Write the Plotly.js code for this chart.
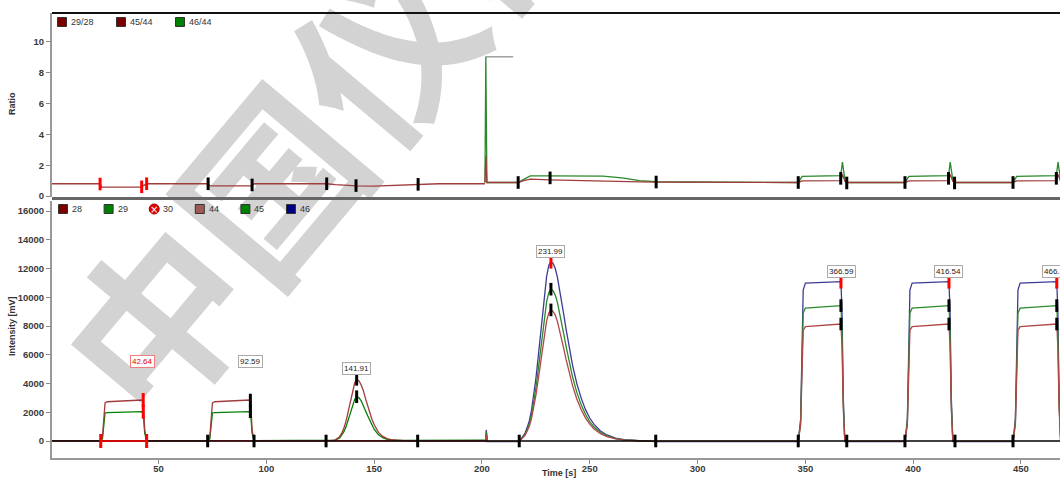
<!DOCTYPE html>
<html><head><meta charset="utf-8">
<script src="https://cdn.plot.ly/plotly-3.0.1.min.js"></script>
<style>html,body{margin:0;padding:0;background:#fff}#c{width:1060px;height:479px}</style>
</head><body><div id="c"></div>
<script>
// ---------- DATA ----------
const xTicks = [50,100,150,200,250,300,350,400,450];
const yTicksI = [0,2000,4000,6000,8000,10000,12000,14000,16000];
const yTicksR = [0,2,4,6,8,10];

// N2 segment (intensity, mV)
const tN2 = [0.6,23.2,24.0,24.6,25.2,26.2,42.4,43.0,43.6,44.5,72.8,73.8,74.4,75.0,76.0,92.2,92.8,93.4,94.3,127.7,130,132,134,135,136,137,138,139,140,141,141.9,143,144,145,146,147,148,149,150,152,154,156,158,160,164,170.2,185,201.4];
const v28 = [20,20,300,1800,2650,2730,2850,2500,800,20,20,300,1800,2650,2730,2850,2500,800,20,20,20,80,300,550,900,1400,2100,2800,3500,4050,4290,4180,3900,3500,2950,2450,1950,1500,1150,600,320,170,100,60,30,20,20,20];
const v29 = [20,20,150,1300,1950,1980,2040,1750,550,20,20,150,1300,1950,1980,2040,1750,550,20,20,15,60,215,400,650,1000,1500,2000,2500,2900,3080,3000,2800,2500,2100,1750,1400,1080,820,430,230,120,70,45,45,55,60,60];
const v30 = [10,10,20,35,40,40,40,30,15,10,10,20,35,40,40,40,30,15,10,10,10,12,15,18,22,27,32,38,44,48,50,49,46,42,37,32,27,23,20,15,12,11,10,10,10,10,10,10];

// CO2 segment (intensity, mV)
const tCO2 = [201.4,201.7,202.0,202.6,217.3,219,220,221,222,223,224,225,226,227,228,229,230,231,232,233,234,235,236,237,238,239,240,242,244,246,248,250,252,255,258,262,266,270,275,281,346.7,347.8,348.4,349.0,350.0,366.5,367.0,367.6,368.3,396.2,397.3,397.9,398.5,399.5,416.6,417.1,417.7,418.4,446.3,447.4,448.0,448.6,449.6,466.6,467.1,467.7,468.4];
const v44 = [-20,-20,450,-20,-30,220,400,690,1040,1570,2270,3150,4170,5290,6440,7500,8360,8910,9120,9020,8760,8320,7740,7080,6390,5690,5040,3870,2920,2190,1610,1170,840,510,310,145,65,20,0,-20,-20,1100,4300,7700,7960,8140,6600,2200,-20,-20,1100,4300,7700,7960,8140,6600,2200,-20,-20,1100,4300,7700,7960,8140,6600,2200,-20];
const v45 = [-20,-20,600,-20,-30,250,465,800,1200,1820,2630,3650,4830,6130,7460,8690,9690,10330,10560,10450,10150,9640,8970,8210,7400,6600,5840,4480,3380,2540,1860,1350,970,590,355,170,75,25,0,-20,-20,1300,5000,8900,9240,9420,7700,2500,-20,-20,1300,5000,8900,9240,9420,7700,2500,-20,-20,1300,5000,8900,9240,9420,7700,2500,-20];
const v46 = [-40,-40,770,-40,-50,300,550,950,1420,2150,3110,4310,5710,7250,8820,10270,11450,12210,12480,12350,12000,11400,10600,9700,8750,7800,6900,5300,4000,3000,2200,1600,1150,700,420,200,90,30,0,-40,-40,1500,6000,10500,10980,11090,9000,3000,-40,-40,1500,6000,10500,10980,11090,9000,3000,-40,-40,1500,6000,10500,10980,11090,9000,3000,-40];

// Ratios
const tR2928 = [0.6,22.9,23.6,42.0,43.0,44.5,73.0,73.8,92.8,93.6,94.5,128,132,138,142,150,160,170.4,180,201.4];
const r2928  = [0.80,0.80,0.58,0.58,0.68,0.80,0.80,0.66,0.66,0.72,0.80,0.80,0.74,0.70,0.66,0.64,0.68,0.76,0.80,0.80];
const tRCO2 = [201.4,201.8,202.3,216.8,219,222.4,231.6,245,256,265,273,280.8,346.7,348.5,366.4,367.2,368.4,369.2,396.2,398,416.4,417.2,418.4,419.2,446.3,448,466.4,467.2,468.4];
const r4544 = [0.88,2.58,0.88,0.88,0.98,1.10,1.05,1.00,0.94,0.93,0.92,0.90,0.88,0.98,1.00,1.40,0.95,0.88,0.88,0.98,1.00,1.40,0.95,0.88,0.88,0.98,1.00,1.40,0.95];
const r4644 = [0.88,9.03,0.88,0.88,1.05,1.31,1.31,1.30,1.29,1.18,1.00,0.93,0.88,1.28,1.33,2.20,1.00,0.88,0.88,1.28,1.33,2.20,1.00,0.88,0.88,1.28,1.33,2.20,1.00];
const tJump = [201.8,214.5];
const rJump = [9.03,9.03];

// Peak integration marks
const mkBlackT = [72.8,94.3,92.6,92.6,127.7,170.2,141.9,141.9,217.3,280.6,232,232,346.7,369.2,366.5,366.5,396.2,419.4,416.6,416.6,446.3,466.6,466.6];
const mkBlackV = [0,0,2850,2040,0,0,4290,3080,0,0,10560,9120,0,0,9420,8140,0,0,9420,8140,0,9420,8140];
const mkRedT = [23.2,44.5,42.9,42.9,232,366.5,416.6,466.6];
const mkRedV = [0,0,2850,2040,12480,11090,11090,11090];
const baseSelT = [23.2,44.5];
const baseSelV = [0,0];
const mkRTopBlackT = [73.0,93.4,128.0,141.6,170.4,216.8,231.6,280.8,346.7,366.4,369.2,396.2,416.4,419.2,446.3,466.4];
const mkRTopBlackV = [0.80,0.72,0.80,0.68,0.76,0.88,1.18,0.91,0.88,1.15,0.85,0.88,1.15,0.85,0.88,1.15];
const mkRTopRedT = [22.9,42.2,44.5];
const mkRTopRedV = [0.78,0.60,0.80];

// Peak labels
const peakLabels = ['42.64','92.59','141.91','231.99','366.59','416.54','466.54'];
const peakLabelT = [42.64,92.59,141.91,231.99,366.59,416.54,466.54];
const peakLabelV = [5500,5500,5010,13150,11760,11760,11760];

// Legends
const legTopNames = ['29/28','45/44','46/44'];
const legTopColors = ['#7a0000','#7a0000','#008000'];
const legBotNames = ['28','29','30','44','45','46'];
const legBotColors = ['#7a0000','#008000','#e00000','#a05a55','#008000','#000080'];

// ---------- PLOT ----------
const W=1060,H=479,L=52,R=1060,T=13,B=458;
const px=(x)=>(x-L)/(R-L), py=(y)=>(B-y)/(B-T);

const lw=1.3;
const traces = [
  {x:tN2,y:v30,xaxis:'x',yaxis:'y',mode:'lines',line:{color:'#ff0000',width:lw},name:'30'},
  {x:tN2,y:v29,xaxis:'x',yaxis:'y',mode:'lines',line:{color:'#008000',width:lw},name:'29'},
  {x:tN2,y:v28,xaxis:'x',yaxis:'y',mode:'lines',line:{color:'#a03c3c',width:lw},name:'28'},
  {x:tCO2,y:v46,xaxis:'x',yaxis:'y',mode:'lines',line:{color:'#3c3c96',width:lw},name:'46'},
  {x:tCO2,y:v45,xaxis:'x',yaxis:'y',mode:'lines',line:{color:'#2a8a2a',width:lw},name:'45'},
  {x:tCO2,y:v44,xaxis:'x',yaxis:'y',mode:'lines',line:{color:'#b04646',width:lw},name:'44'},
  {x:[0.6,468.1],y:[0,0],xaxis:'x',yaxis:'y',mode:'lines',line:{color:'#000',width:1.3},hoverinfo:'skip'},
  {x:baseSelT,y:baseSelV,xaxis:'x',yaxis:'y',mode:'lines',line:{color:'#ff0000',width:1.5}},
  {x:mkBlackT,y:mkBlackV,xaxis:'x',yaxis:'y',mode:'markers',marker:{symbol:'line-ns',size:9,line:{color:'#000',width:3}}},
  {x:mkRedT,y:mkRedV,xaxis:'x',yaxis:'y',mode:'markers',marker:{symbol:'line-ns',size:10,line:{color:'#ff0000',width:3}}},
  // ratio panel
  {x:tR2928,y:r2928,xaxis:'x2',yaxis:'y2',mode:'lines',line:{color:'#a03c3c',width:lw},name:'29/28'},
  {x:tJump,y:rJump,xaxis:'x2',yaxis:'y2',mode:'lines',line:{color:'#a0a0a0',width:1.5}},
  {x:tRCO2,y:r4644,xaxis:'x2',yaxis:'y2',mode:'lines',line:{color:'#2a8a2a',width:lw},name:'46/44'},
  {x:tRCO2,y:r4544,xaxis:'x2',yaxis:'y2',mode:'lines',line:{color:'#a03c3c',width:lw},name:'45/44'},
  {x:mkRTopBlackT,y:mkRTopBlackV,xaxis:'x2',yaxis:'y2',mode:'markers',marker:{symbol:'line-ns',size:9,line:{color:'#000',width:3}}},
  {x:mkRTopRedT,y:mkRTopRedV,xaxis:'x2',yaxis:'y2',mode:'markers',marker:{symbol:'line-ns',size:9,line:{color:'#ff0000',width:3}}}
];

const tickFont={family:'Liberation Sans, Arial',size:9.5,color:'#3a3a3a',weight:'bold'};
const annotations=[], shapes=[];

// watermark: label of an invisible shape drawn below the traces
shapes.push({type:'rect',layer:'below',xref:'paper',yref:'paper',x0:px(400),x1:px(402),y0:py(62),y1:py(60),
  line:{width:0},fillcolor:'rgba(0,0,0,0)',
  label:{text:'中国仪器网',textangle:-50,textposition:'middle center',
    font:{family:'Noto Sans CJK SC',size:178,color:'#d3d3d3',weight:'bold'}}});

// peak labels
peakLabels.forEach((s,i)=>{
  const sel = i===0;
  annotations.push({x:peakLabelT[i],y:peakLabelV[i],xref:'x',yref:'y',xanchor:'center',yanchor:'middle',text:s,showarrow:false,
    font:{family:'Liberation Sans, Arial',size:8,color:sel?'#e00000':'#222'},
    bgcolor:'#fff',bordercolor:sel?'#f08080':'#aaa',borderwidth:1,borderpad:1});
});

// legends
function legend(names,colors,x0,step,y){
  names.forEach((n,i)=>{
    const cx=x0+i*step;
    if(n==='30'){
      shapes.push({type:'circle',xref:'paper',yref:'paper',x0:px(cx-5),x1:px(cx+5),y0:py(y+5),y1:py(y-5),fillcolor:colors[i],line:{color:'#a00',width:1}});
      annotations.push({x:px(cx),y:py(y),xref:'paper',yref:'paper',xanchor:'center',yanchor:'middle',text:'×',showarrow:false,font:{size:10,color:'#fff',family:'DejaVu Sans'}});
    } else {
      shapes.push({type:'rect',xref:'paper',yref:'paper',x0:px(cx-4.5),x1:px(cx+4.5),y0:py(y+4.5),y1:py(y-4.5),fillcolor:colors[i],line:{color:'#333',width:1}});
    }
    annotations.push({x:px(cx+7),y:py(y),xref:'paper',yref:'paper',xanchor:'left',yanchor:'middle',text:n,showarrow:false,
      font:{family:'Liberation Sans, Arial',size:9,color:'#333'}});
  });
}
legend(legTopNames,legTopColors,62,59,22);
legend(legBotNames,legBotColors,63,45.6,209);

// axis titles
annotations.push({x:px(12),y:py(326),xref:'paper',yref:'paper',xanchor:'center',yanchor:'middle',text:'Intensity [mV]',textangle:-90,showarrow:false,font:{family:'Liberation Sans, Arial',size:9,color:'#333',weight:'bold'}});
annotations.push({x:px(12),y:py(104),xref:'paper',yref:'paper',xanchor:'center',yanchor:'middle',text:'Ratio',textangle:-90,showarrow:false,font:{family:'Liberation Sans, Arial',size:9,color:'#333',weight:'bold'}});
annotations.push({x:px(559),y:py(473),xref:'paper',yref:'paper',xanchor:'center',yanchor:'middle',text:'Time [s]',showarrow:false,font:{family:'Liberation Sans, Arial',size:9,color:'#333',weight:'bold'}});

// frame
shapes.push({type:'line',xref:'paper',yref:'paper',x0:0,x1:1,y0:1,y1:1,line:{color:'#111',width:2}});
shapes.push({type:'line',xref:'paper',yref:'paper',x0:0,x1:1,y0:py(198.5),y1:py(198.5),line:{color:'#666',width:3}});

const layout={
  width:W,height:H,margin:{l:L,r:W-R,t:T,b:H-B},
  paper_bgcolor:'#fff',plot_bgcolor:'rgba(0,0,0,0)',showlegend:false,
  xaxis:{domain:[0,1],anchor:'y',range:[0.6,468.1],tickvals:xTicks,ticks:'outside',ticklen:4,tickwidth:1,tickcolor:'#888',ticklabelstandoff:-3,
    showline:true,linecolor:'#999',linewidth:2,showgrid:false,zeroline:false,tickfont:tickFont},
  yaxis:{domain:[0,py(201)],anchor:'x',range:[-1183,16696],tickvals:yTicksI,tickformat:'d',ticks:'outside',ticklen:4,tickcolor:'#888',
    showline:true,linecolor:'#999',linewidth:2,showgrid:false,zeroline:false,tickfont:tickFont},
  xaxis2:{domain:[0,1],anchor:'y2',range:[0.6,468.1],showticklabels:false,ticks:'',showline:false,showgrid:false,zeroline:false},
  yaxis2:{domain:[py(197),1],anchor:'x2',range:[-0.06,11.87],tickvals:yTicksR,ticks:'outside',ticklen:4,tickcolor:'#888',
    showline:true,linecolor:'#999',linewidth:2,showgrid:false,zeroline:false,tickfont:tickFont},
  annotations:annotations,shapes:shapes
};
Plotly.newPlot('c',traces,layout,{staticPlot:true,displayModeBar:false});
</script></body></html>
